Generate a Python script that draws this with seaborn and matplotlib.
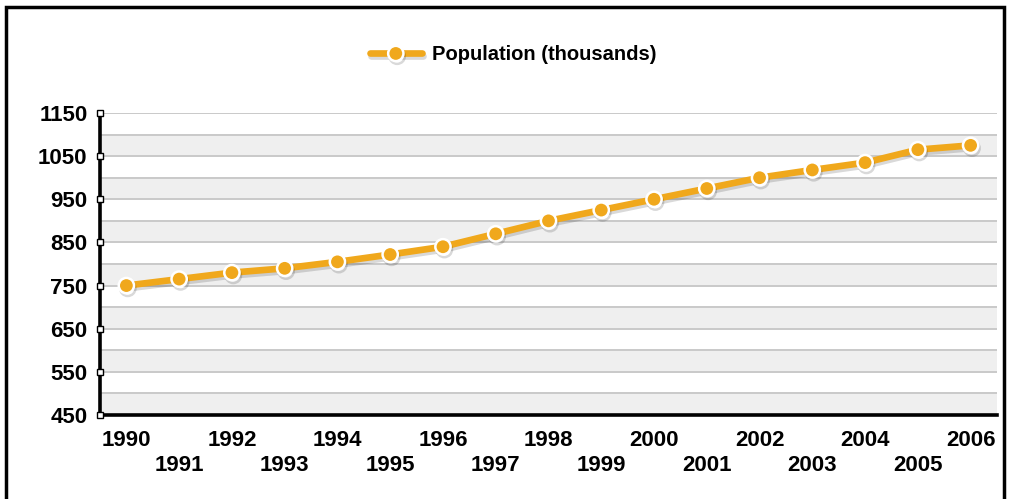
import matplotlib
matplotlib.use("Agg")
import matplotlib.pyplot as plt
import matplotlib.patheffects as pe
from matplotlib.patches import Rectangle
import matplotlib.transforms as mtransforms
import seaborn as sns
import pandas as pd

years = [1990, 1991, 1992, 1993, 1994, 1995, 1996, 1997, 1998,
         1999, 2000, 2001, 2002, 2003, 2004, 2005, 2006]
population = [750, 765, 780, 790, 805, 822, 840, 870, 900,
              925, 950, 975, 1000, 1018, 1035, 1065, 1075]
y_ticks = [450, 550, 650, 750, 850, 950, 1050, 1150]
series_name = "Population (thousands)"

LINE = "#f0a81c"
df = pd.DataFrame({"year": years, "value": population})

sns.set_style("white")
plt.rcParams["font.family"] = ["Liberation Sans", "DejaVu Sans"]
plt.rcParams["font.weight"] = "bold"
plt.rcParams["text.color"] = "black"
plt.rcParams["xtick.color"] = "black"
plt.rcParams["ytick.color"] = "black"

fig = plt.figure(figsize=(10.10, 4.99), dpi=100)
ax = fig.add_axes([100 / 1010, 1 - 415 / 499, 897 / 1010, 302 / 499])

ymin, ymax = 450, 1150
ax.set_ylim(ymin, ymax)
ax.set_xlim(years[0] - 0.5, years[-1] + 0.5)

# alternating bands and gridlines every 50
for lo in range(450, 1150, 100):
    ax.axhspan(lo, lo + 50, color="#efefef", zorder=0, lw=0)
for g in range(450, 1151, 50):
    ax.axhline(g, color="#c9c9c9", lw=1.4, zorder=0.5)

shadow = [pe.SimpleLineShadow(offset=(1.0, -2.0), shadow_color="#000000", alpha=0.15),
          pe.Normal()]
sns.lineplot(data=df, x="year", y="value", ax=ax, color=LINE, lw=4.8,
             marker="o", markersize=11, markerfacecolor=LINE,
             markeredgecolor="white", markeredgewidth=1.8,
             label=series_name, legend=False, zorder=3,
             path_effects=shadow)

# spines
for s in ("top", "right"):
    ax.spines[s].set_visible(False)
for s in ("left", "bottom"):
    ax.spines[s].set_color("black")
    ax.spines[s].set_linewidth(2.6)
    ax.spines[s].set_zorder(4)

# y axis ticks with square markers on the spine
ax.set_yticks(y_ticks)
ax.set_yticklabels([str(v) for v in y_ticks], fontsize=16, fontweight="bold", color="black")
ax.tick_params(axis="y", direction="out", length=6, width=2.2, color="black", pad=3)
trans = mtransforms.blended_transform_factory(ax.transAxes, ax.transData)
ax.plot([0] * len(y_ticks), y_ticks, ls="none", marker="s", markersize=5,
        mfc="white", mec="black", mew=1.0, transform=trans, clip_on=False, zorder=5)

# x axis: tick marks at band edges, labels at band centres in two rows
edges = [y - 0.5 for y in years] + [years[-1] + 0.5]
ax.set_xticks(edges)
ax.set_xticklabels([])
ax.tick_params(axis="x", which="major", direction="out", length=9, width=2.6, color="black")
ax.set_xticks(years, minor=True)
ax.set_xticklabels([str(y) if i % 2 == 0 else "\n" + str(y) for i, y in enumerate(years)],
                   minor=True, fontsize=16, fontweight="bold", color="black", linespacing=1.25)
ax.tick_params(axis="x", which="minor", length=0, pad=11)
ax.set_xlabel("")
ax.set_ylabel("")

# legend
handle = plt.Line2D([], [], color=LINE, lw=4.8, marker="o", markersize=11,
                    markerfacecolor=LINE, markeredgecolor="white", markeredgewidth=1.8,
                    path_effects=shadow)
fig.legend([handle], [series_name], loc="center", bbox_to_anchor=(0.508, 1 - 55 / 499),
           frameon=False, handlelength=2.6, handletextpad=0.5,
           prop={"size": 14.5, "weight": "bold"})

# outer frame
fig.patches.append(Rectangle((6 / 1010, -0.05), 998 / 1010, 1.05 - 7 / 499,
                             transform=fig.transFigure, fill=False,
                             edgecolor="black", lw=2.5))

fig.savefig("out.png", dpi=100)
